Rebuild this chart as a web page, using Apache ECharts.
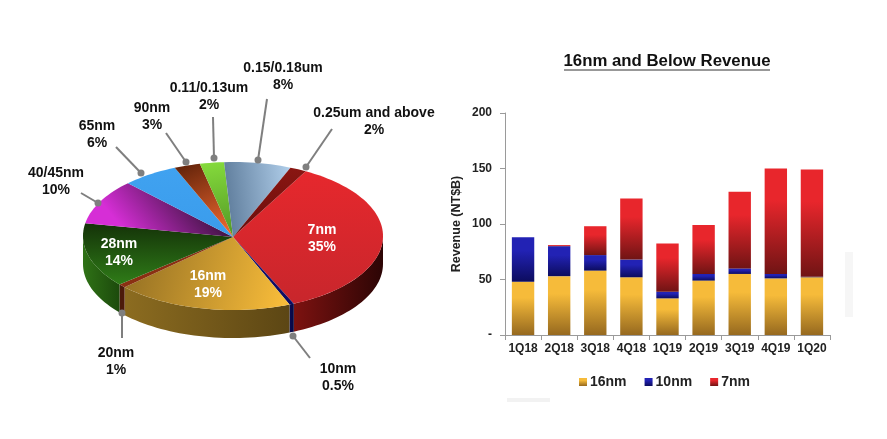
<!DOCTYPE html>
<html>
<head>
  <meta charset="utf-8">
  <title>16nm and Below Revenue</title>
  <style>
    html, body { margin: 0; padding: 0; background: #fff; }
    #main { width: 887px; height: 439px; }
  </style>
</head>
<body>
  <div id="main"></div>
  <script src="https://cdn.jsdelivr.net/npm/echarts@6/dist/echarts.min.js"></script>
  <script>
    // 工艺节点占比 (clockwise, starting at the 7nm slice)
    var nodeNames = ['7nm', '10nm', '16nm', '20nm', '28nm', '40/45nm', '65nm', '90nm', '0.11/0.13um', '0.15/0.18um', '0.25um and above'];
    // the printed, rounded percentages
    var nodeLabels = ['35%', '0.5%', '19%', '1%', '14%', '10%', '6%', '3%', '2%', '8%', '2%'];
    // slice sizes, they round to about the printed labels
    var nodeShares = [35.3, 0.5, 19, 0.8, 14.1, 9.9, 6, 2.8, 2.6, 7.2, 1.8];

    // quarterly revenue (NT$B)
    var quarters = ['1Q18', '2Q18', '3Q18', '4Q18', '1Q19', '2Q19', '3Q19', '4Q19', '1Q20'];
    var rev16 = [48, 53, 58, 52, 33, 49, 55, 51, 52];
    var rev10 = [40, 27, 14, 16, 6, 6, 5, 4, 0.5];
    var rev7 = [0, 1, 26, 55, 43.5, 44, 69, 95, 96.5];

    var font = '"Liberation Sans", Arial, sans-serif';

    // pie geometry
    var pie = { cx: 233, cy: 236, rx: 150, ry: 74, depth: 28, start: 29 };

    // top from, top to, gradient direction [x, y, x2, y2], wall from, wall to
    var sliceStyle = [
      ['#e6282d', '#c8262c', [0, 0, 0, 1], '#7d1210', '#2c0505'],
      ['#14147a', '#0c0c60', [0, 0, 0, 1], '#0a0a55', '#0a0a40'],
      ['#8f6c22', '#f8bc3a', [0, 0, 1, 0.6], '#8c6c20', '#5c4614'],
      ['#8a3012', '#8a3012', [0, 0, 0, 1], '#4c1a0a', '#4c1a0a'],
      ['#143208', '#2f7c18', [0, 0, 0, 1], '#2f7216', '#1c4a0c'],
      ['#d62ed6', '#451548', [0.3, 1, 0.7, 0.1], '#6a1a6a', '#6a1a6a'],
      ['#40a2f0', '#3a9cec', [0, 0, 0, 1], '#2a70aa', '#2a70aa'],
      ['#5c2008', '#e8642e', [0, 0, 0.6, 1], '#5c2008', '#5c2008'],
      ['#86dc3c', '#549a26', [0, 0, 0.4, 1], '#3c7018', '#3c7018'],
      ['#5f7d9c', '#aecce8', [0, 0.4, 1, 0.3], '#5f7d9c', '#5f7d9c'],
      ['#8a1612', '#6a0e0c', [0, 0, 0, 1], '#4c0a08', '#4c0a08']
    ];

    // text and leader line layout for the labels around the pie
    var outerLabels = [
      { i: 1, x: 338, y: 378, line: [310, 358, 293, 336] },
      { i: 3, x: 116, y: 362, line: [122, 338, 122, 313] },
      { i: 5, x: 56, y: 182, line: [81, 193, 98, 203] },
      { i: 6, x: 97, y: 135, line: [116, 147, 141, 173] },
      { i: 7, x: 152, y: 117, line: [166, 133, 186, 162] },
      { i: 8, x: 209, y: 97, line: [213, 117, 214, 158] },
      { i: 9, x: 283, y: 77, line: [267, 99, 258, 160] },
      { i: 10, x: 374, y: 122, line: [332, 129, 306, 167] }
    ];
    var innerLabels = [
      { i: 0, x: 322, y: 239 },
      { i: 2, x: 208, y: 285 },
      { i: 4, x: 119, y: 253 }
    ];

    var total = nodeShares.reduce(function (a, b) { return a + b; }, 0);

    function gradient(dir, from, to) {
      return new echarts.graphic.LinearGradient(dir[0], dir[1], dir[2], dir[3], [
        { offset: 0, color: from },
        { offset: 1, color: to }
      ]);
    }

    function ellipsePoint(deg, dy) {
      var a = deg * Math.PI / 180;
      return [pie.cx + pie.rx * Math.sin(a), pie.cy - pie.ry * Math.cos(a) + dy];
    }

    function arc(from, to, dy) {
      var pts = [];
      var steps = Math.max(2, Math.ceil((to - from) / 2));
      for (var s = 0; s <= steps; s++) {
        pts.push(ellipsePoint(from + (to - from) * s / steps, dy));
      }
      return pts;
    }

    function renderSlice(params, api) {
      var idx = params.dataIndex;
      var before = 0;
      for (var k = 0; k < idx; k++) before += nodeShares[k];
      var from = pie.start + before / total * 360;
      var to = from + api.value(0) / total * 360;
      var st = sliceStyle[idx];
      var children = [];

      // side wall only where the rim faces the viewer
      var wallFrom = Math.max(from, 90);
      var wallTo = Math.min(to, 270);
      if (wallTo > wallFrom) {
        children.push({
          type: 'polygon',
          shape: { points: arc(wallFrom, wallTo, 0).concat(arc(wallFrom, wallTo, pie.depth).reverse()) },
          style: { fill: gradient([0, 0, 1, 0], st[3], st[4]) }
        });
      }
      children.push({
        type: 'polygon',
        shape: { points: [[pie.cx, pie.cy + 1]].concat(arc(from, to, 0)) },
        style: { fill: gradient(st[2], st[0], st[1]) }
      });
      return { type: 'group', children: children };
    }

    var graphics = [];
    outerLabels.forEach(function (l) {
      graphics.push({
        type: 'line', z: 10,
        shape: { x1: l.line[0], y1: l.line[1], x2: l.line[2], y2: l.line[3] },
        style: { stroke: '#7f7f7f', lineWidth: 2 }
      });
      graphics.push({
        type: 'circle', z: 10,
        shape: { cx: l.line[2], cy: l.line[3], r: 3.5 },
        style: { fill: '#7f7f7f' }
      });
    });
    outerLabels.concat(innerLabels).forEach(function (l) {
      var inner = innerLabels.indexOf(l) >= 0;
      graphics.push({
        type: 'text', z: 11, x: l.x, y: l.y,
        style: {
          text: nodeNames[l.i] + '\n' + nodeLabels[l.i],
          fill: inner ? '#ffffff' : '#111111',
          font: 'bold 14px ' + font,
          lineHeight: 17,
          align: 'center',
          verticalAlign: 'middle'
        }
      });
    });
    // underline of the bar chart title
    graphics.push({
      type: 'line', z: 10,
      shape: { x1: 564, y1: 70, x2: 770, y2: 70 },
      style: { stroke: '#333333', lineWidth: 1 }
    });
    // faint smudges left in the source image
    graphics.push({
      type: 'rect', z: -1,
      shape: { x: 845, y: 252, width: 8, height: 65 },
      style: { fill: '#f6f6f6' }
    });
    graphics.push({
      type: 'rect', z: -1,
      shape: { x: 507, y: 398, width: 43, height: 4 },
      style: { fill: '#f2f2f2' }
    });

    function barSeries(name, data, top, bottom) {
      return {
        name: name,
        type: 'bar',
        stack: 'rev',
        data: data,
        barWidth: '62%',
        itemStyle: {
          color: new echarts.graphic.LinearGradient(0, 0, 0, 1, [
            { offset: 0, color: top },
            { offset: 0.3, color: top },
            { offset: 1, color: bottom }
          ])
        }
      };
    }

    var option = {
      animation: false,
      backgroundColor: '#ffffff',
      title: {
        text: '16nm and Below Revenue',
        left: 662,
        top: 48,
        textAlign: 'center',
        textStyle: { fontFamily: font, fontSize: 16.8, fontWeight: 'bold', color: '#111111' }
      },
      legend: {
        data: ['16nm', '10nm', '7nm'],
        left: 574,
        top: 370,
        itemWidth: 8,
        itemHeight: 8,
        itemGap: 18,
        icon: 'rect',
        textStyle: { fontFamily: font, fontSize: 14, fontWeight: 'bold', color: '#222222', padding: [0, 0, 0, -2] }
      },
      grid: { left: 505, top: 113, width: 325, height: 222 },
      xAxis: {
        type: 'category',
        data: quarters,
        axisLine: { lineStyle: { color: '#9a9a9a' } },
        axisTick: { show: true, alignWithLabel: false, lineStyle: { color: '#9a9a9a' } },
        axisLabel: { interval: 0, hideOverlap: false, fontFamily: font, fontSize: 12, fontWeight: 'bold', color: '#222222', margin: 8 }
      },
      yAxis: {
        type: 'value',
        min: 0,
        max: 200,
        interval: 50,
        name: 'Revenue (NT$B)',
        nameLocation: 'middle',
        nameGap: 42,
        nameTextStyle: { fontFamily: font, fontSize: 12.5, fontWeight: 'bold', color: '#222222' },
        axisLine: { show: true, lineStyle: { color: '#9a9a9a' } },
        axisTick: { show: true, lineStyle: { color: '#9a9a9a' } },
        splitLine: { show: false },
        axisLabel: {
          fontFamily: font, fontSize: 12, fontWeight: 'bold', color: '#222222', margin: 13,
          formatter: function (v) { return v === 0 ? '-' : v; }
        }
      },
      graphic: graphics,
      series: [
        barSeries('16nm', rev16, '#f6bb3a', '#96691f'),
        barSeries('10nm', rev10, '#2222b4', '#0c0c5e'),
        barSeries('7nm', rev7, '#e8262c', '#701414'),
        {
          type: 'custom',
          coordinateSystem: 'none',
          data: nodeShares,
          silent: true,
          renderItem: renderSlice
        }
      ]
    };

    echarts.init(document.getElementById('main')).setOption(option);
  </script>
</body>
</html>
